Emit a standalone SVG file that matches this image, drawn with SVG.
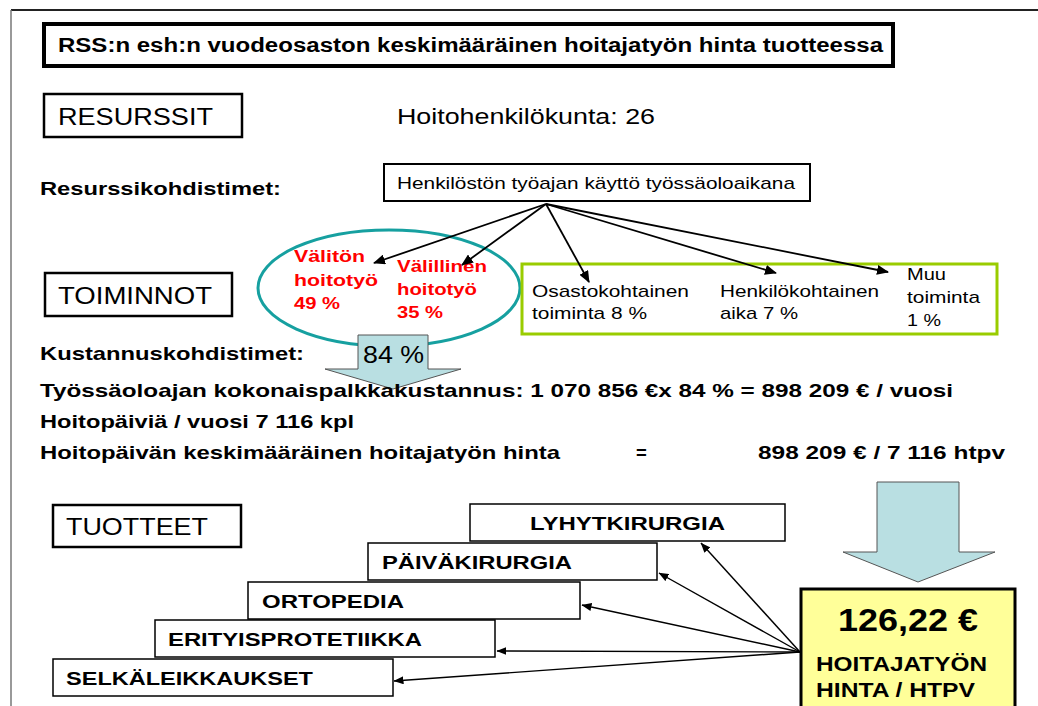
<svg xmlns="http://www.w3.org/2000/svg" width="1038" height="706" viewBox="0 0 1038 706">
  <style>
    text { font-family: "Liberation Sans", Arial, sans-serif; fill: #000; }
    .b { font-weight: bold; }
    .lbl { font-size: 24px; }
    .hdr { font-size: 18.5px; font-weight: bold; }
    .red { fill: #ff0000; font-weight: bold; font-size: 17px; }
    .act { font-size: 17px; }
    .prod { font-size: 18px; font-weight: bold; }
    .box { fill: #fff; stroke: #000; }
    .pbox { fill: #fff; stroke: #000; stroke-width: 1.5; }
    .conn { stroke: #000; stroke-width: 1.8; fill: none; }
    .conn2 { stroke: #000; stroke-width: 1.4; fill: none; }
    .barrow { fill: #b9dfe2; stroke: #555; stroke-width: 1; }
  </style>
  <defs>
    <marker id="ah" markerWidth="12" markerHeight="10" refX="11" refY="5" orient="auto" markerUnits="userSpaceOnUse">
      <path d="M0,0 L12,5 L0,10 Z" fill="#000"/>
    </marker>
    <marker id="ahs" markerWidth="10" markerHeight="8" refX="9.5" refY="4" orient="auto" markerUnits="userSpaceOnUse">
      <path d="M0,0 L10,4 L0,8 Z" fill="#000"/>
    </marker>
  </defs>

  <rect width="1038" height="706" fill="#fff"/>
  <!-- page frame -->
  <line x1="11" y1="10" x2="1038" y2="10" stroke="#222" stroke-width="2"/>
  <line x1="11" y1="10" x2="11" y2="706" stroke="#777" stroke-width="1.5"/>

  <g id="title">
    <rect x="44" y="24" width="849" height="42" class="box" stroke-width="4"/>
    <text x="58" y="52" class="b" font-size="20" textLength="825" lengthAdjust="spacingAndGlyphs">RSS:n esh:n vuodeosaston keskimääräinen hoitajatyön hinta tuotteessa</text>
  </g>

  <g id="resurssit">
    <rect x="44" y="94" width="198" height="43" class="box" stroke-width="2.5"/>
    <text x="58" y="125" class="lbl" textLength="155" lengthAdjust="spacingAndGlyphs">RESURSSIT</text>
  </g>
  <text id="henkilokunta" x="397" y="124" font-size="22" textLength="258" lengthAdjust="spacingAndGlyphs">Hoitohenkilökunta: 26</text>

  <text id="resurssikohdistimet" x="40" y="195" class="hdr" textLength="241" lengthAdjust="spacingAndGlyphs">Resurssikohdistimet:</text>

  <g id="tyoaika">
    <rect x="384" y="164" width="426" height="37" class="box" stroke-width="2"/>
    <text x="397" y="189" font-size="17" textLength="398" lengthAdjust="spacingAndGlyphs">Henkilöstön työajan käyttö työssäoloaikana</text>
  </g>

  <g id="toiminnot">
    <rect x="45" y="273" width="187" height="43" class="box" stroke-width="2.5"/>
    <text x="58" y="304" class="lbl" textLength="154" lengthAdjust="spacingAndGlyphs">TOIMINNOT</text>
  </g>

  <g id="hoitotyo">
    <ellipse cx="389" cy="288" rx="131" ry="58" fill="none" stroke="#16a0a0" stroke-width="3"/>
    <text x="294" y="262" class="red" textLength="71" lengthAdjust="spacingAndGlyphs">Välitön</text>
    <text x="294" y="286" class="red" textLength="84" lengthAdjust="spacingAndGlyphs">hoitotyö</text>
    <text x="294" y="309" class="red" textLength="46" lengthAdjust="spacingAndGlyphs">49 %</text>
    <text x="397" y="272" class="red" textLength="90" lengthAdjust="spacingAndGlyphs">Välillinen</text>
    <text x="397" y="295" class="red" textLength="80" lengthAdjust="spacingAndGlyphs">hoitotyö</text>
    <text x="397" y="318" class="red" textLength="46" lengthAdjust="spacingAndGlyphs">35 %</text>
  </g>

  <g id="muut-toiminnot">
    <rect x="522" y="264" width="475" height="70" fill="none" stroke="#99cc00" stroke-width="3"/>
    <text x="532" y="297" class="act" textLength="157" lengthAdjust="spacingAndGlyphs">Osastokohtainen</text>
    <text x="532" y="319" class="act" textLength="115" lengthAdjust="spacingAndGlyphs">toiminta 8 %</text>
    <text x="720" y="297" class="act" textLength="159" lengthAdjust="spacingAndGlyphs">Henkilökohtainen</text>
    <text x="720" y="319" class="act" textLength="78" lengthAdjust="spacingAndGlyphs">aika 7 %</text>
    <text x="907" y="280" class="act" textLength="39" lengthAdjust="spacingAndGlyphs">Muu</text>
    <text x="907" y="303" class="act" textLength="73" lengthAdjust="spacingAndGlyphs">toiminta</text>
    <text x="907" y="326" class="act" textLength="34" lengthAdjust="spacingAndGlyphs">1 %</text>
  </g>

  <g id="connectors">
    <line x1="546" y1="204" x2="374" y2="263" class="conn" marker-end="url(#ah)"/>
    <line x1="546" y1="204" x2="462" y2="265" class="conn" marker-end="url(#ah)"/>
    <line x1="546" y1="204" x2="589" y2="282" class="conn" marker-end="url(#ah)"/>
    <line x1="546" y1="204" x2="776" y2="273" class="conn" marker-end="url(#ah)"/>
    <line x1="546" y1="204" x2="888" y2="272" class="conn" marker-end="url(#ah)"/>

    <line x1="800" y1="652" x2="701" y2="543" class="conn2" marker-end="url(#ahs)"/>
    <line x1="800" y1="652" x2="659" y2="573" class="conn2" marker-end="url(#ahs)"/>
    <line x1="800" y1="652" x2="582" y2="605" class="conn2" marker-end="url(#ahs)"/>
    <line x1="800" y1="652" x2="497" y2="651" class="conn2" marker-end="url(#ahs)"/>
    <line x1="800" y1="652" x2="394" y2="681" class="conn2" marker-end="url(#ahs)"/>
  </g>

  <g id="osuus-84">
    <path d="M358,335 H428 V369 H461 L393,389 L325,369 H358 Z" class="barrow"/>
    <text x="363" y="363" font-size="23" textLength="61" lengthAdjust="spacingAndGlyphs">84 %</text>
  </g>

  <text id="kustannuskohdistimet" x="40" y="360" class="hdr" textLength="264" lengthAdjust="spacingAndGlyphs">Kustannuskohdistimet:</text>
  <text x="40" y="397" class="hdr" textLength="913" lengthAdjust="spacingAndGlyphs">Työssäoloajan kokonaispalkkakustannus: 1 070 856 €x 84 % = 898 209 € / vuosi</text>
  <text x="40" y="428" class="hdr" textLength="314" lengthAdjust="spacingAndGlyphs">Hoitopäiviä / vuosi 7 116 kpl</text>
  <text x="40" y="459" class="hdr" textLength="520" lengthAdjust="spacingAndGlyphs">Hoitopäivän keskimääräinen hoitajatyön hinta</text>
  <text x="636" y="459" class="hdr">=</text>
  <text x="758" y="459" class="hdr" textLength="247" lengthAdjust="spacingAndGlyphs">898 209 € / 7 116 htpv</text>

  <g id="tuotteet">
    <rect x="53" y="505" width="188" height="42" class="box" stroke-width="2.5"/>
    <text x="66" y="535" class="lbl" textLength="142" lengthAdjust="spacingAndGlyphs">TUOTTEET</text>
  </g>

  <g id="lyhytkirurgia">
    <rect x="470" y="504" width="315" height="37" class="pbox"/>
    <text x="530" y="530" class="prod" textLength="195" lengthAdjust="spacingAndGlyphs">LYHYTKIRURGIA</text>
  </g>
  <g id="paivakirurgia">
    <rect x="368" y="543" width="289" height="37" class="pbox"/>
    <text x="382" y="569" class="prod" textLength="190" lengthAdjust="spacingAndGlyphs">PÄIVÄKIRURGIA</text>
  </g>
  <g id="ortopedia">
    <rect x="248" y="582" width="332" height="37" class="pbox"/>
    <text x="262" y="608" class="prod" textLength="142" lengthAdjust="spacingAndGlyphs">ORTOPEDIA</text>
  </g>
  <g id="erityisprotetiikka">
    <rect x="155" y="620" width="340" height="37" class="pbox"/>
    <text x="168" y="646" class="prod" textLength="254" lengthAdjust="spacingAndGlyphs">ERITYISPROTETIIKKA</text>
  </g>
  <g id="selkaleikkaukset">
    <rect x="53" y="659" width="340" height="37" class="pbox"/>
    <text x="66" y="685" class="prod" textLength="247" lengthAdjust="spacingAndGlyphs">SELKÄLEIKKAUKSET</text>
  </g>

  <g id="hinta-nuoli">
    <path d="M877,482 H959 V552 H995 L918,582 L843,552 H877 Z" class="barrow"/>
  </g>

  <g id="hinta">
    <rect x="801" y="589" width="214" height="122" fill="#ffff99" stroke="#000" stroke-width="3"/>
    <text x="838" y="631" class="b" font-size="31" textLength="140" lengthAdjust="spacingAndGlyphs">126,22 €</text>
    <text x="816" y="671" class="b" font-size="20" textLength="171" lengthAdjust="spacingAndGlyphs">HOITAJATYÖN</text>
    <text x="816" y="697" class="b" font-size="20" textLength="159" lengthAdjust="spacingAndGlyphs">HINTA / HTPV</text>
  </g>
</svg>
